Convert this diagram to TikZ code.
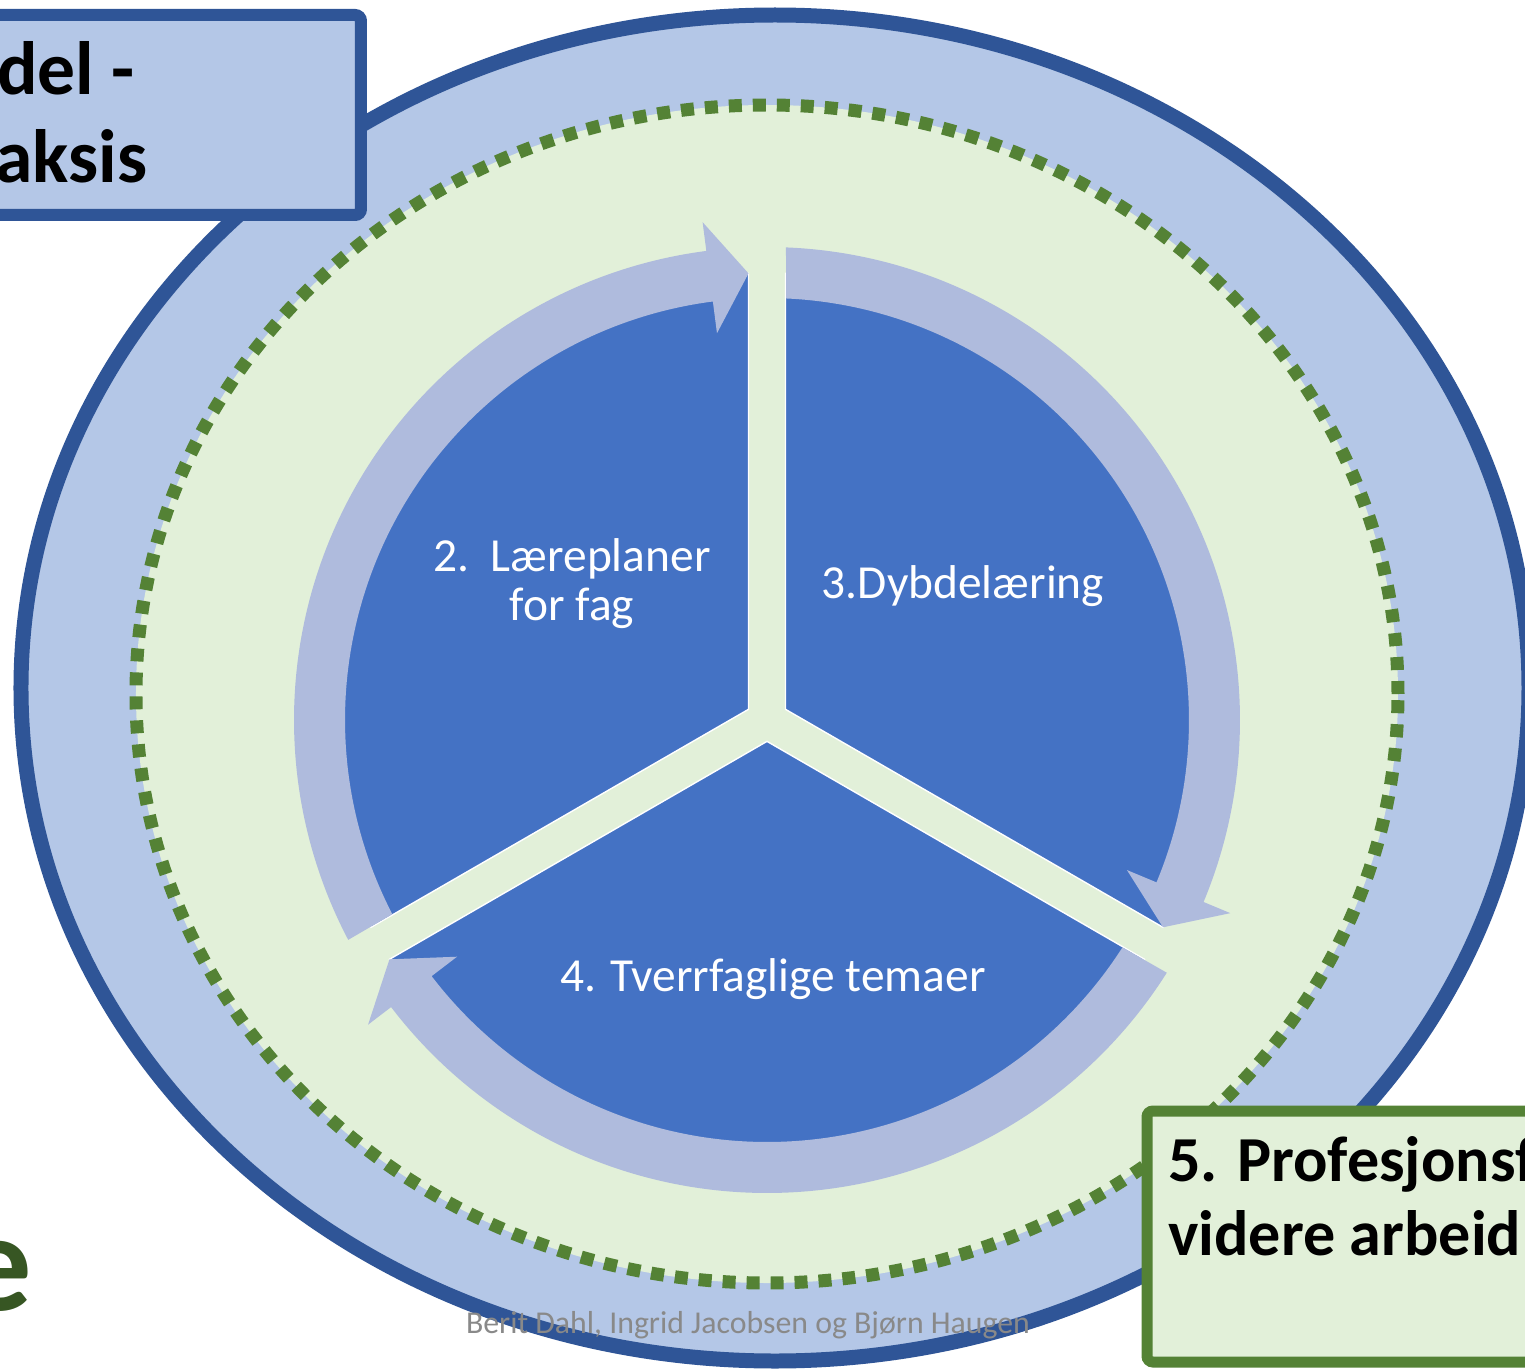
\documentclass[tikz,border=0pt]{standalone}
\usepackage{fontspec}
\setmainfont{Carlito}
\definecolor{ringblue}{HTML}{B4C7E7}
\definecolor{rimblue}{HTML}{2F5597}
\definecolor{palegreen}{HTML}{E2F0D9}
\definecolor{dotgreen}{HTML}{548235}
\definecolor{segblue}{HTML}{4472C4}
\definecolor{arrowlav}{RGB}{175,187,221}
\definecolor{creditgray}{RGB}{137,137,137}
\definecolor{titlegreen}{HTML}{375623}
\begin{document}
\begin{tikzpicture}[x=0.02cm,y=0.02cm,
  segment/.style={fill=segblue, draw=white, line width=0.8pt},
  cyclearrow/.style={fill=arrowlav},
  segtext/.style={text=white, font=\fontsize{27}{28}\selectfont, inner sep=0pt},
  boxtitle/.style={text=black, inner sep=0pt, anchor=base west},
  credit/.style={text=creditgray, font=\fontsize{18.1}{20}\selectfont, inner sep=0pt, anchor=base}]
\useasboundingbox (-767,-650) rectangle (758,720);
\clip (-767,-650) rectangle (758,720);

% outer ring
\draw[rimblue, fill=ringblue, line width=0.3cm] (8,32) ellipse [x radius=754, y radius=673];

% dotted inner field
\fill[palegreen] (0,26) ellipse [x radius=631, y radius=589];
\draw[dotgreen, line width=0.26cm, dash pattern=on 0.26cm off 0.22cm] (0,26) ellipse [x radius=631, y radius=589];

% three segments separated by gaps
\foreach \p in {150,30,270}
  \path[segment] (\p:21.36) -- (\p+57.63:447) arc[start angle=\p+57.63, end angle=\p-57.63, radius=447] -- cycle;

% clockwise arrows around the segments
\foreach \g in {210,90,-30} {
  \pgfmathsetmacro\tipa{\g-120+2.37}
  \pgfmathsetmacro\basea{\tipa+5}
  \path[cyclearrow] (\g-2.3:473) arc[start angle=\g-2.3, end angle=\basea, radius=473]
    -- (\basea:502) -- (\tipa:447) -- (\basea:390) -- (\basea:422)
    arc[start angle=\basea, end angle=\g-2.6, radius=422] -- cycle;
}

% segment labels
\node[segtext, align=center] (lp) at (-195,136) {2.\ \ Læreplaner\\for fag};
\node[segtext, anchor=base] (dl) at (196,122) {3.Dybdelæring};
\node[segtext, anchor=base] (tt) at (6,-271) {4. Tverrfaglige temaer};

% top-left title box
\draw[rimblue, fill=ringblue, line width=0.24cm, rounded corners=0.12cm] (-800,705) rectangle (-406,505);
\node[boxtitle, font=\bfseries\fontsize{43}{50}\selectfont] (tl1) at (-770,625) {del -};
\node[boxtitle, font=\bfseries\fontsize{43}{50}\selectfont] (tl2) at (-772,537) {aksis};

% bottom-right title box
\draw[dotgreen, fill=palegreen, line width=0.22cm, rounded corners=0.12cm] (380,-391) rectangle (840,-642);
\node[boxtitle, font=\bfseries\fontsize{36.5}{42}\selectfont] (br1) at (401,-461) {5. Profesjonsf};
\node[boxtitle, font=\bfseries\fontsize{36.5}{42}\selectfont] (br2) at (401,-535) {videre arbeid};

% large heading fragment
\node[text=titlegreen, font=\bfseries\fontsize{80}{90}\selectfont, inner sep=0pt, anchor=base east] (hd) at (-734,-590) {e};

% credits
\node[credit] (cr) at (-19,-613) {Berit Dahl, Ingrid Jacobsen og Bjørn Haugen};
\end{tikzpicture}
\end{document}
